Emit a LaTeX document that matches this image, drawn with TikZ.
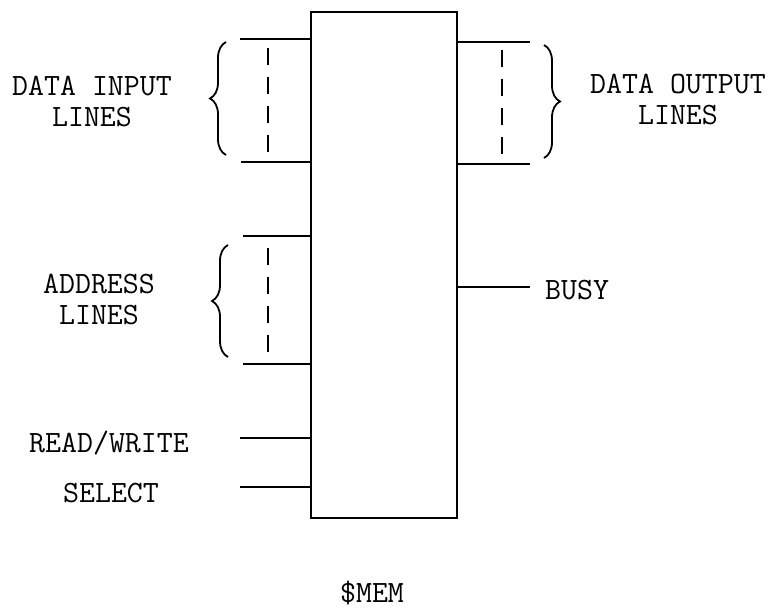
\documentclass[tikz,border=0pt]{standalone}
\usetikzlibrary{decorations.pathreplacing}
\begin{document}
\begin{tikzpicture}[x=1pt,y=-1pt,
  font=\fontsize{31}{31}\selectfont\ttfamily,
  wire/.style={line width=2.4pt},
  bus/.style={line width=1.6pt,dash pattern=on 17pt off 12pt},
  grp/.style={decorate,decoration={brace,amplitude=16pt},line width=1.8pt},
  lbl/.style={align=center,inner sep=0pt}]
  \useasboundingbox (0,0) rectangle (768,609);
  % memory block
  \node[draw,line width=2.6pt,minimum width=146pt,minimum height=506pt,inner sep=0pt] (mem) at (384,265) {};
  % free ends of the lines
  \coordinate (din1) at (240,39);
  \coordinate (din2) at (241,162);
  \coordinate (dout1) at (530,42);
  \coordinate (dout2) at (530,164);
  \coordinate (adr1) at (243,236);
  \coordinate (adr2) at (243,364);
  \coordinate (busy) at (530,287);
  \coordinate (rw) at (240,438);
  \coordinate (sel) at (240,487);
  \foreach \c in {din1,din2,adr1,adr2,rw,sel}
    \draw[wire] (\c) -- (\c -| mem.west);
  \foreach \c in {dout1,dout2,busy}
    \draw[wire] (\c -| mem.east) -- (\c);
  % dashed bundles
  \draw[bus] (268,48) -- (268,152);
  \draw[bus] (502,50) -- (502,154);
  \draw[bus] (268,248) -- (268,352);
  % braces
  \draw[grp] (226,155) -- (226,42);
  \draw[grp] (544,45) -- (544,158);
  \draw[grp] (228,357) -- (228,245);
  % labels
  \node[lbl] (dinl) at (92,102) {DATA INPUT\\LINES};
  \node[lbl] (doutl) at (678,100) {DATA OUTPUT\\LINES};
  \node[lbl] (adrl) at (99,299) {ADDRESS\\LINES};
  \node[lbl,anchor=west] (busyl) at (545,290) {BUSY};
  \node[lbl] (rwl) at (109,443) {READ/WRITE};
  \node[lbl] (sell) at (111,493) {SELECT};
  \node[lbl] (name) at (372,593) {\$MEM};
\end{tikzpicture}
\end{document}
